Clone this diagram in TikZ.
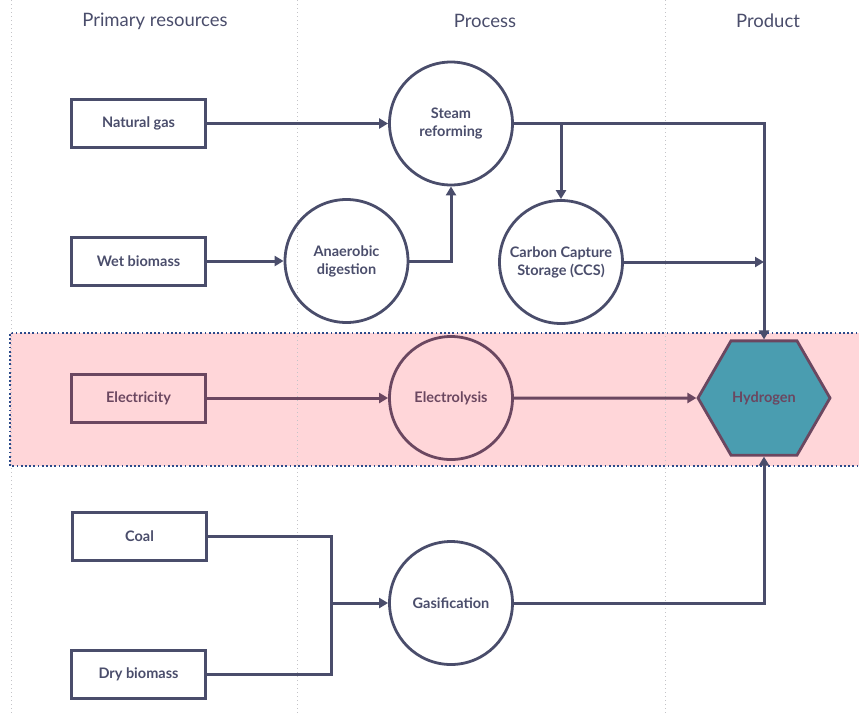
\documentclass[tikz,border=0pt]{standalone}
\usepackage{fontspec}
\setmainfont{Lato}
\usetikzlibrary{shapes.geometric,arrows.meta}

\definecolor{slate}{HTML}{4A4D6B}
\definecolor{plum}{HTML}{6B4760}
\definecolor{band}{HTML}{FFD6D9}
\definecolor{bandedge}{HTML}{2C4A8A}
\definecolor{teal}{HTML}{4A9DB0}
\definecolor{guide}{HTML}{C4C4C8}

\begin{document}
\begin{tikzpicture}[x=1pt,y=-1pt]
                \tikzstyle{res}=[rectangle, draw=slate, line width=3pt, minimum width=134pt, minimum height=48pt, text=slate, font=\fontsize{14.5}{16}\selectfont\bfseries]
                \tikzstyle{proc}=[circle, draw=slate, line width=2.8pt, minimum size=123pt, inner sep=0pt, align=center, text=slate, font=\fontsize{14.5}{18}\selectfont\bfseries]
                \tikzstyle{head}=[text=slate, font=\fontsize{18.5}{20}\selectfont]
                \tikzstyle{arr}=[draw=slate, line width=3pt, -{Triangle[width=10pt,length=9pt]}]
                \tikzstyle{link}=[draw=slate, line width=3pt]

                \useasboundingbox (0,0) rectangle (859,713);

                % highlighted row
                \fill[band] (10,333) rectangle (870,466);
                \draw[bandedge, line width=1.8pt, dash pattern=on 1.8pt off 2.4pt] (870,333) -- (10,333) -- (10,466) -- (870,466);

                % column guides
                \foreach \gx in {11,297,665}
                    \draw[guide, line width=0.9pt, dash pattern=on 1pt off 3pt] (\gx,0) -- (\gx,713);

                \node[head] (hres)  at (155,21) {Primary resources};
                \node[head] (hproc) at (485,21) {Process};
                \node[head] (hprod) at (768,21) {Product};

                \node[res] (ng)   at (138.5,123.5) {Natural gas};
                \node[res] (wb)   at (138.5,261) {Wet biomass};
                \node[res, draw=plum, text=plum] (el) at (138.5,398) {Electricity};
                \node[res] (coal) at (139.5,536.5) {Coal};
                \node[res] (dry)  at (138.5,674) {Dry biomass};

                \node[proc] (sr)  at (451,123.5) {Steam\\reforming};
                \node[proc] (ad)  at (346.5,261) {Anaerobic\\digestion};
                \node[proc] (ccs) at (561,262) {Carbon Capture\\Storage (CCS)};
                \node[proc, draw=plum, text=plum] (ely) at (451,398) {Electrolysis};
                \node[proc] (gas) at (451,603) {Gasification};

                \node[regular polygon, regular polygon sides=6, minimum size=132pt, inner sep=0pt, fill=teal, draw=plum, line width=2.8pt, text=plum, font=\fontsize{14.5}{16}\selectfont\bfseries] (h2) at (764,398) {Hydrogen};

                \coordinate (split) at (561,123.5);
                \coordinate (ccsin) at (764,262);
                \coordinate (mix) at (331,603);

                \draw[arr] (ng.east) -- (sr.west);
                \draw[arr] (wb.east) -- (ad.west);
                \draw[arr] (ad.east) -| (sr.south);
                \draw[arr] (sr.east) -| (h2.north);
                \draw[arr] (split) -- (ccs.north);
                \draw[arr] (ccs.east) -- (ccsin);
                \draw[arr, draw=plum] (el.east) -- (ely.west);
                \draw[arr, draw=plum] (ely.east) -- (h2.west);
                \draw[link] (coal.east) -| (mix);
                \draw[link] (dry.east) -| (mix);
                \draw[arr] (mix) -- (gas.west);
                \draw[arr] (gas.east) -| (h2.south);
            \end{tikzpicture}
\end{document}
